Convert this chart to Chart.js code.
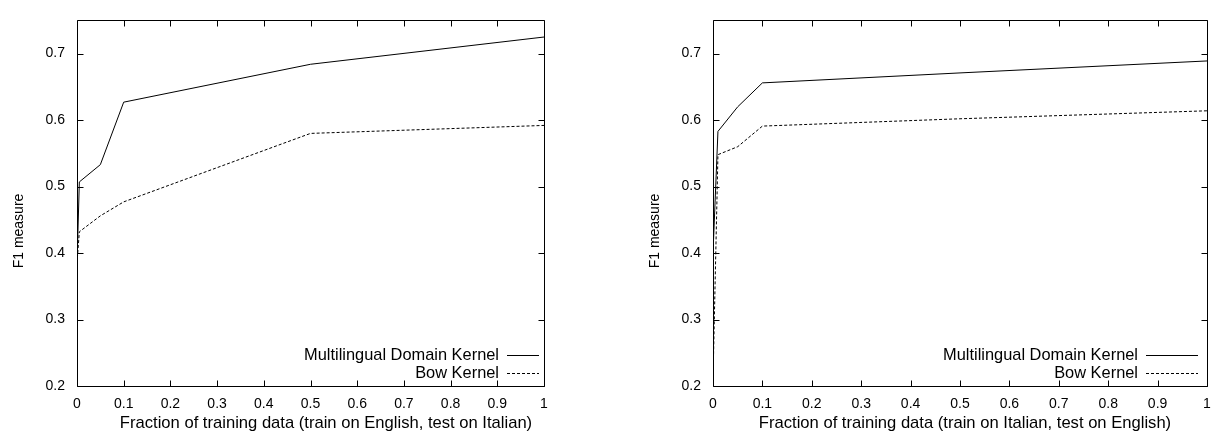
<!DOCTYPE html>
<html><head><meta charset="utf-8">
<script src="https://cdn.jsdelivr.net/npm/chart.js@4/dist/chart.umd.min.js"></script>
<style>
html,body{margin:0;padding:0;background:#fff;}
#wrap{position:relative;width:1227px;height:445px;overflow:hidden;background:#fff;}
canvas{position:absolute;top:0;}
</style></head><body>
<div id="wrap">
<canvas id="c1" width="636" height="445" style="left:0px"></canvas>
<canvas id="c2" width="591" height="445" style="left:636px"></canvas>
</div>
<script>
// ---- data ----
const seriesLabels = ['Multilingual Domain Kernel', 'Bow Kernel'];
const leftFractions = [0, 0.005, 0.05, 0.1, 0.5, 1];
const leftMultilingual = [0.383, 0.507, 0.533, 0.627, 0.684, 0.725];
const leftBow = [0.385, 0.432, 0.456, 0.477, 0.580, 0.592];
const rightFractions = [0, 0.01, 0.05, 0.1, 0.5, 1];
const rightMultilingual = [0.400, 0.583, 0.620, 0.656, 0.671, 0.689];
const rightBow = [0.210, 0.548, 0.560, 0.591, 0.602, 0.614];
const xTickValues = [0, 0.1, 0.2, 0.3, 0.4, 0.5, 0.6, 0.7, 0.8, 0.9, 1];
const xTickLabels = ['0', '0.1', '0.2', '0.3', '0.4', '0.5', '0.6', '0.7', '0.8', '0.9', '1'];
const yTickValues = [0.2, 0.3, 0.4, 0.5, 0.6, 0.7];
const yTickLabels = ['0.2', '0.3', '0.4', '0.5', '0.6', '0.7'];
const yTitle = 'F1 measure';
const leftXTitle = 'Fraction of training data (train on English, test on Italian)';
const rightXTitle = 'Fraction of training data (train on Italian, test on English)';

const FONT_FAMILY = '"Liberation Sans", Arial, Helvetica, sans-serif';
const font = { family: FONT_FAMILY, size: 14 };
const TEXT = '#000';

const framePlugin = {
  id: 'frame',
  afterDraw(chart, args, o) {
    const { ctx, chartArea: a, scales } = chart;
    ctx.save();
    ctx.strokeStyle = '#000';
    ctx.lineWidth = 1;
    ctx.setLineDash([]);
    ctx.beginPath();
    const L = Math.round(a.left) + 0.5, R = Math.round(a.right) + 0.5;
    const T = Math.round(a.top) + 0.5, B = Math.round(a.bottom) + 0.5;
    ctx.rect(L, T, R - L, B - T);
    const tl = 6;
    xTickValues.forEach(v => {
      const px = Math.round(scales.x.getPixelForValue(v)) + 0.5;
      ctx.moveTo(px, B); ctx.lineTo(px, B - tl);
      ctx.moveTo(px, T); ctx.lineTo(px, T + tl);
    });
    yTickValues.forEach(v => {
      const py = Math.round(scales.y.getPixelForValue(v)) + 0.5;
      ctx.moveTo(L, py); ctx.lineTo(L + tl, py);
      ctx.moveTo(R, py); ctx.lineTo(R - tl, py);
    });
    ctx.stroke();
    ctx.fillStyle = TEXT;
    // axis titles
    ctx.textAlign = 'center';
    ctx.textBaseline = 'middle';
    ctx.font = o.xTitleSize + 'px ' + FONT_FAMILY;
    ctx.fillText(o.xTitle, o.xTitleX, o.xTitleY);
    ctx.save();
    ctx.translate(o.yTitleX, o.yTitleY);
    ctx.rotate(-Math.PI / 2);
    ctx.font = '14px ' + FONT_FAMILY;
    ctx.fillText(yTitle, 0, 0);
    ctx.restore();
    // legend
    const rows = [355, 373];
    ctx.font = o.legendSize + 'px ' + FONT_FAMILY;
    ctx.textAlign = 'right';
    chart.data.datasets.forEach((ds, i) => {
      const y = rows[i];
      ctx.fillText(ds.label, o.legendTextRight, y);
      ctx.beginPath();
      ctx.setLineDash(ds.borderDash || []);
      ctx.lineWidth = ds.borderWidth;
      ctx.moveTo(o.legendLineFrom, y + 0.5);
      ctx.lineTo(o.legendLineTo, y + 0.5);
      ctx.stroke();
    });
    ctx.restore();
  }
};

function makeChart(id, xs, solid, dashed, padRight, frameOpts) {
  return new Chart(document.getElementById(id), {
    type: 'line',
    data: {
      datasets: [
        { label: seriesLabels[0], data: xs.map((x, i) => ({ x: x, y: solid[i] })),
          borderColor: '#000', borderWidth: 1, pointRadius: 0, tension: 0, fill: false },
        { label: seriesLabels[1], data: xs.map((x, i) => ({ x: x, y: dashed[i] })),
          borderColor: '#000', borderWidth: 1, borderDash: [3, 2], pointRadius: 0, tension: 0, fill: false }
      ]
    },
    options: {
      responsive: false, animation: false, devicePixelRatio: 1,
      layout: { padding: { left: 0, top: 8, right: padRight, bottom: 0 } },
      plugins: { legend: { display: false }, tooltip: { enabled: false }, frame: frameOpts },
      scales: {
        x: {
          type: 'linear', min: 0, max: 1,
          grid: { display: false, drawTicks: false }, border: { display: false },
          afterBuildTicks: s => { s.ticks = xTickValues.map(v => ({ value: v })); },
          ticks: { padding: 10, color: TEXT, font: font, maxRotation: 0, autoSkip: false,
                   callback: (v, i) => xTickLabels[i] },
          afterFit: s => { s.height = 59; }
        },
        y: {
          type: 'linear', min: 0.2, max: 0.75,
          grid: { display: false, drawTicks: false }, border: { display: false },
          afterBuildTicks: s => { s.ticks = yTickValues.map(v => ({ value: v })); },
          ticks: { padding: 12, color: TEXT, font: font, autoSkip: false,
                   callback: (v, i) => yTickLabels[i] },
          afterFit: s => { s.width = 77; }
        }
      }
    },
    plugins: [framePlugin]
  });
}

makeChart('c1', leftFractions, leftMultilingual, leftBow, 92, {
  xTitle: leftXTitle, xTitleX: 326, xTitleY: 423, xTitleSize: 16.6,
  yTitleX: 19, yTitleY: 231,
  legendSize: 16.4, legendTextRight: 499, legendLineFrom: 507, legendLineTo: 539
});
makeChart('c2', rightFractions, rightMultilingual, rightBow, 20, {
  xTitle: rightXTitle, xTitleX: 329, xTitleY: 423, xTitleSize: 16.6,
  yTitleX: 19, yTitleY: 231,
  legendSize: 16.4, legendTextRight: 502, legendLineFrom: 510, legendLineTo: 562
});
</script>
</body></html>
